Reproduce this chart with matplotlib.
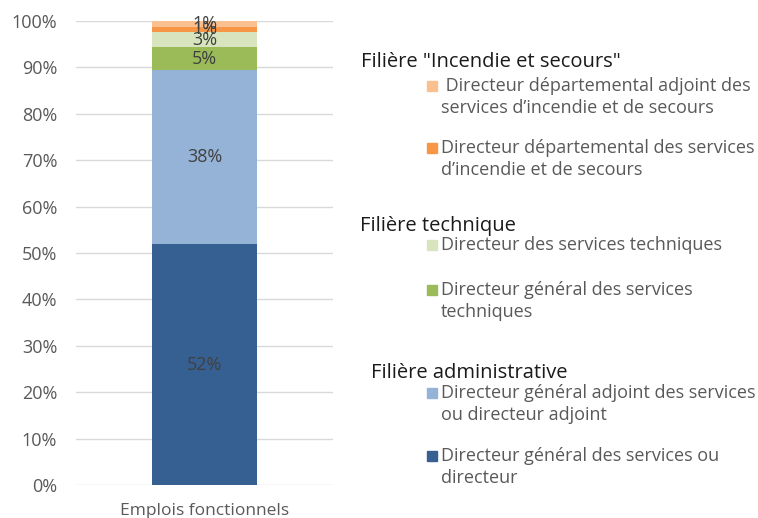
import matplotlib.pyplot as plt
from matplotlib.patches import Rectangle

W, H = 758, 518

category = "Emplois fonctionnels"
# segments from bottom to top
segments = [
    "Directeur général des services ou\ndirecteur",
    "Directeur général adjoint des services\nou directeur adjoint",
    "Directeur général des services\ntechniques",
    "Directeur des services techniques",
    "Directeur départemental des services\nd\u2019incendie et de secours",
    " Directeur départemental adjoint des\nservices d\u2019incendie et de secours",
]
shares = [51.9, 37.6, 4.8, 3.4, 1.1, 1.2]
colors = ["#376092", "#95B3D7", "#9BBB59", "#D7E4BD", "#F79646", "#FAC090"]
groups = ['Filière "Incendie et secours"', "Filière technique", "Filière administrative"]

plt.rcParams['font.family'] = ['Open Sans', 'DejaVu Sans']
grey = "#595959"

fig = plt.figure(figsize=(W / 100, H / 100), dpi=100)
ax = fig.add_axes([76 / W, 1 - 485 / H, (333 - 76) / W, (485 - 21) / H])

bottom = 0
for val, col in zip(shares, colors):
    ax.bar(0, val, bottom=bottom, width=0.405, color=col, zorder=3)
    ax.text(0, bottom + val / 2, "%d%%" % round(val), ha="center", va="center",
            fontsize=13, color="#404040", zorder=4)
    bottom += val

ax.set_xlim(-0.5, 0.5)
ax.set_ylim(0, 100)
ax.set_yticks(range(0, 101, 10))
ax.set_yticklabels(["%d%%" % v for v in range(0, 101, 10)], fontsize=13, color=grey)
ax.set_xticks([0])
ax.set_xticklabels([category], fontsize=12.5, color=grey)
ax.tick_params(axis="y", length=0, pad=13.5)
ax.tick_params(axis="x", length=0, pad=13)
ax.grid(axis="y", color="#D9D9D9", linewidth=1, zorder=0)
for s in ax.spines.values():
    s.set_visible(False)


def px(x, y):
    return x / W, 1 - y / H


# hand-made legend, grouped by filière
header_pos = [(361, 62), (360, 226), (371, 373)]
for name, (x, y) in zip(groups, header_pos):
    fig.text(*px(x, y), name, fontsize=14.5, color="#1a1a1a", va="center", ha="left")

item_y = {5: 86, 4: 148, 3: 245, 2: 290, 1: 393, 0: 456}
for i, label in enumerate(segments):
    y = item_y[i]
    fig.patches.append(Rectangle(px(427, y + 5), 10 / W, 10 / H, transform=fig.transFigure,
                                 color=colors[i], figure=fig))
    lines = label.split("\n")
    for k, line in enumerate(lines):
        fig.text(*px(441, y + 22 * k), line, fontsize=13, color=grey, va="center", ha="left")

fig.savefig("out.png", dpi=100)
